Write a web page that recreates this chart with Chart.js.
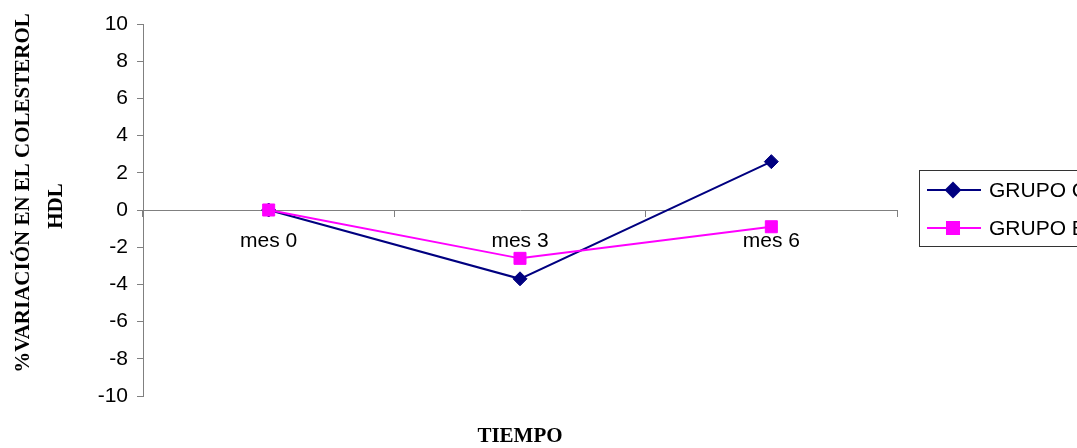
<!DOCTYPE html>
<html>
<head>
<meta charset="utf-8">
<script src="https://cdn.jsdelivr.net/npm/chart.js@4"></script>
<style>
  html, body { margin: 0; padding: 0; background: #fff; }
  #wrap { width: 1077px; height: 448px; }
</style>
</head>
<body>
<div id="wrap"><canvas id="myChart" width="1077" height="448"></canvas></div>
<script>
// values
const categories = ["mes 0", "mes 3", "mes 6"];
const grupoC = [0, -3.7, 2.6];
const grupoE = [0, -2.6, -0.9];
const seriesNames = ["GRUPO C", "GRUPO E"];
const yMin = -10, yMax = 10, yStep = 2;
const yTitle = ["%VARIACIÓN EN EL COLESTEROL", "HDL"];
const xTitle = "TIEMPO";

const navy = "#000080";
const magenta = "#FF00FF";
const axisGray = "#808080";
const tickFont = { family: "'Liberation Sans', Arial, sans-serif", size: 21 };
const titleFont = "bold 21px 'Liberation Serif', 'Times New Roman', serif";

// titles and the boxed legend are drawn by hand, like the original
const extras = {
    id: "extras",
    afterDraw(chart) {
        const ctx = chart.ctx;
        const area = chart.chartArea;
        ctx.save();
        ctx.fillStyle = "#000";
        ctx.font = titleFont;
        ctx.textAlign = "center";
        ctx.textBaseline = "middle";

        // y title, two rotated lines
        ctx.save();
        ctx.translate(24, 193);
        ctx.rotate(-Math.PI / 2);
        ctx.fillText(yTitle[0], 0, 0);
        ctx.restore();
        ctx.save();
        ctx.translate(57, 206);
        ctx.rotate(-Math.PI / 2);
        ctx.fillText(yTitle[1], 0, 0);
        ctx.restore();

        // x title
        ctx.fillText(xTitle, (area.left + area.right) / 2, 437);

        // legend box
        ctx.strokeStyle = "#333";
        ctx.lineWidth = 1;
        ctx.strokeRect(919.5, 170.5, 200, 76);

        const rows = [
            { name: seriesNames[0], color: navy, style: "rectRot", r: 7, y: 190 },
            { name: seriesNames[1], color: magenta, style: "rect", r: 8.5, y: 228 }
        ];
        rows.forEach((row) => {
            ctx.strokeStyle = row.color;
            ctx.lineWidth = 2;
            ctx.beginPath();
            ctx.moveTo(927, row.y);
            ctx.lineTo(981, row.y);
            ctx.stroke();
            ctx.fillStyle = row.color;
            Chart.helpers.drawPoint(ctx, { pointStyle: row.style, radius: row.r, borderWidth: 1 }, 953, row.y);
            ctx.fill();
            ctx.fillStyle = "#000";
            ctx.font = "21px 'Liberation Sans', Arial, sans-serif";
            ctx.textAlign = "left";
            ctx.fillText(row.name, 989, row.y + 1);
        });
        ctx.restore();
    }
};

new Chart(
  document.getElementById("myChart").getContext("2d"),
  {
    type: "line",
    data: {
        labels: categories,
        datasets: [
            {
                label: seriesNames[0],
                data: grupoC,
                borderColor: navy,
                backgroundColor: navy,
                borderWidth: 2,
                pointStyle: "rectRot",
                pointRadius: 7,
                pointBorderWidth: 1,
                order: 2
            },
            {
                label: seriesNames[1],
                data: grupoE,
                borderColor: magenta,
                backgroundColor: magenta,
                borderWidth: 2,
                pointStyle: "rect",
                pointRadius: 8.5,
                pointBorderWidth: 1,
                order: 1
            }
        ]
    },
    options: {
        responsive: false,
        animation: false,
        layout: {
            padding: { left: 0, right: 180, top: 24, bottom: 52 }
        },
        scales: {
            x: {
                type: "category",
                position: { y: 0 },
                offset: true,
                afterFit: (scale) => { scale.height = 0; },
                grid: {
                    offset: true,
                    drawOnChartArea: false,
                    drawTicks: true,
                    tickLength: 6,
                    color: axisGray
                },
                border: { display: true, color: axisGray, width: 1 },
                ticks: { color: "#000", font: tickFont, padding: 13, maxRotation: 0 }
            },
            y: {
                min: yMin,
                max: yMax,
                afterFit: (scale) => { scale.width = 143; },
                grid: {
                    drawOnChartArea: false,
                    drawTicks: true,
                    tickLength: 6,
                    color: axisGray
                },
                border: { display: true, color: axisGray, width: 1 },
                ticks: { stepSize: yStep, color: "#000", font: tickFont, padding: 9 }
            }
        },
        plugins: {
            legend: { display: false },
            tooltip: { enabled: false }
        }
    },
    plugins: [extras]
  }
);
</script>
</body>
</html>
